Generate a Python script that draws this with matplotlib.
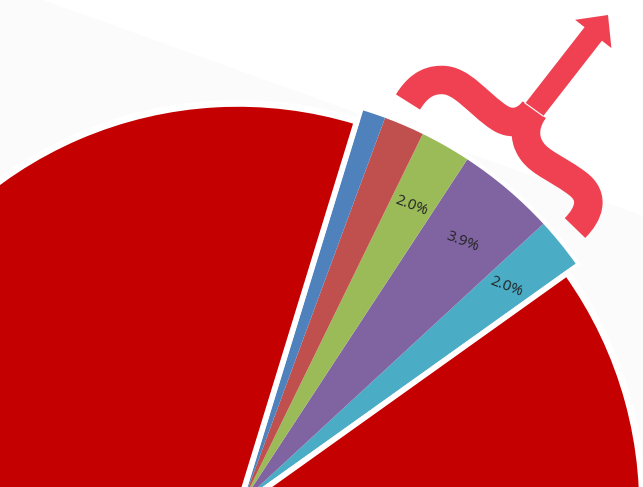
import numpy as np
import matplotlib.pyplot as plt
from matplotlib.patches import Wedge, FancyArrow, PathPatch
from matplotlib.path import Path

plt.rcParams['font.family'] = ['Open Sans', 'DejaVu Sans']

# === Data (counterclockwise from the cyan slice) ===
categories = ["Cyan", "Purple", "Green", "Brown", "Blue", "Main"]
shares = [2.0, 3.9, 2.0, 1.6, 0.9, 89.6]
colors = ["#4BACC6", "#8064A2", "#9BBB59", "#C0504D", "#4F81BD", "#C40000"]
labelled = ["Cyan", "Purple", "Green"]

# geometry, in pixel units (y up, image is 643 x 487)
center = (238, -508)
radius = 404
shift = (5.5, 7.5)      # the small slices are pulled out together
start = 35.5
brace_col = "#EF4152"

fig = plt.figure(figsize=(6.43, 4.87), dpi=100)
ax = fig.add_axes([0, 0, 1, 1])

# faint grey shadow behind the pie
xs = np.array([0, 643])
ax.fill_between(xs, -(0.36 * (xs - 43)), -500, color="#fbfbfb", lw=0, zorder=0.5)

pct_fmt = lambda p: f"{p:.1f}%"
wedges, texts, autotexts = ax.pie(
    shares, colors=colors, startangle=start, counterclock=True,
    radius=radius, center=center, autopct=pct_fmt, pctdistance=0.84,
    textprops={"fontsize": 11, "color": "#222222", "rotation": -21},
    wedgeprops={"linewidth": 0},
)

for name, w, t in zip(categories, wedges, autotexts):
    if name != "Main":
        cx, cy = w.center
        w.set_center((cx + shift[0], cy + shift[1]))
        w.set_radius(radius + 4)
        x, y = t.get_position()
        t.set_position((x + shift[0], y + shift[1]))
    else:
        w.set_edgecolor("white")
        w.set_linewidth(4)
    if name not in labelled:
        t.set_text("")
    # white halo round every slice
    halo = Wedge(w.center, w.r, w.theta1, w.theta2, fc="white", ec="white",
                 lw=6, zorder=0.9)
    ax.add_patch(halo)

# === curly brace + arrow (image coordinates, flipped) ===
def P(x, y):
    return (x, -y)

left_half = Path(
    [P(408, 102), P(416, 89), P(426, 80), P(441, 80),
     P(462, 79), P(478, 104), P(500, 118),
     P(514, 127), P(527, 119.5), P(534, 110)],
    [Path.MOVETO] + [Path.CURVE4] * 9)
right_half = Path(
    [P(534, 110), P(527, 120), P(521, 136), P(532, 151),
     P(540, 163), P(560, 170), P(578, 184),
     P(595, 197), P(589, 214), P(575, 228)],
    [Path.MOVETO] + [Path.CURVE4] * 9)
for pth in (left_half, right_half):
    ax.add_patch(PathPatch(pth, fc="none", ec=brace_col, lw=20.5,
                           capstyle="butt", joinstyle="round", zorder=3))

ax.add_patch(FancyArrow(534, -110, 74, 95, width=22, head_width=46,
                        head_length=24, length_includes_head=True,
                        color=brace_col, lw=0, zorder=3))
ax.plot([525, 543], [-103, -116], color="white", lw=0.8, zorder=4)

ax.set_xlim(0, 643)
ax.set_ylim(-487, 0)
ax.set_aspect("auto")
ax.axis("off")

fig.savefig("out.png", dpi=100, facecolor="white")
